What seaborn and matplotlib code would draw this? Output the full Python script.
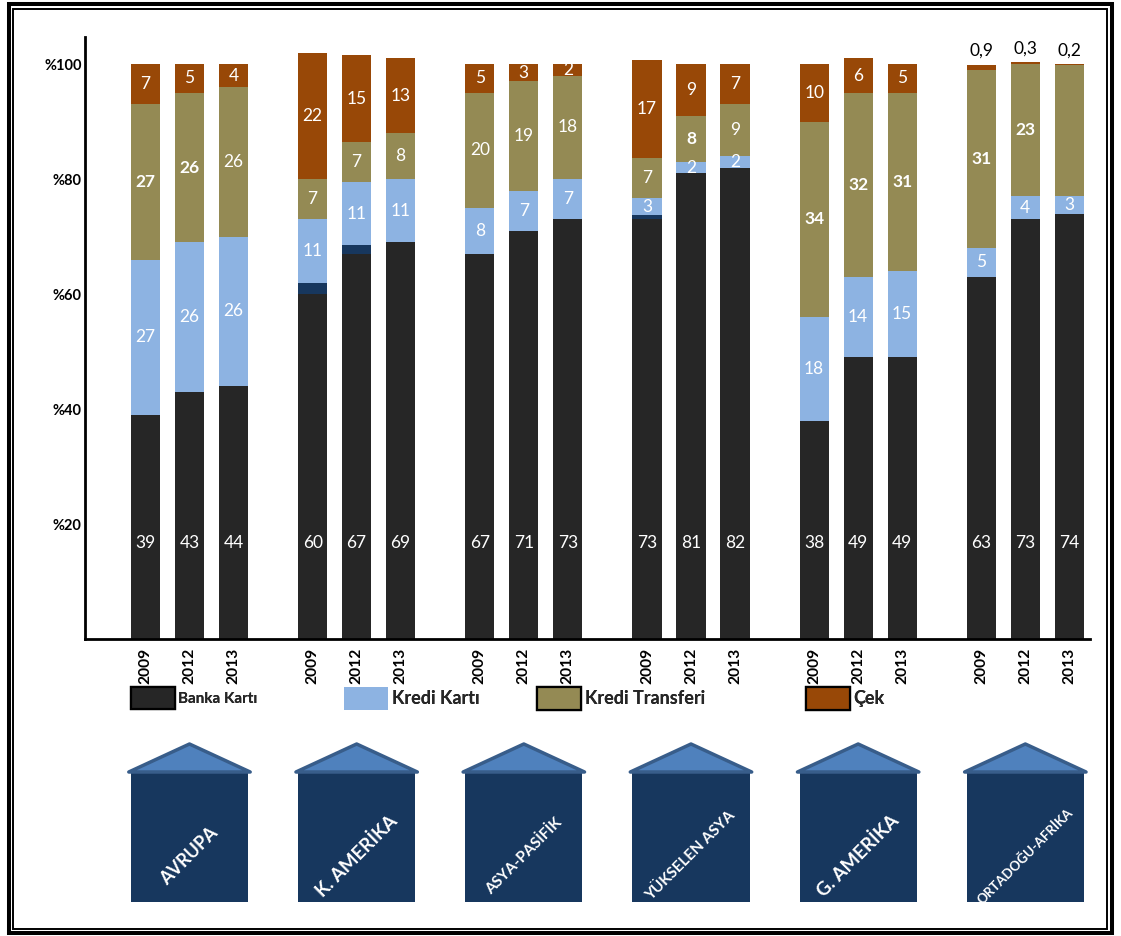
import matplotlib
matplotlib.use("Agg")
import matplotlib.pyplot as plt
from matplotlib.patches import Rectangle, Polygon, Patch
import numpy as np
import pandas as pd
import seaborn as sns

# ---- data -------------------------------------------------------------
bolgeler = ["AVRUPA", "K. AMERİKA", "ASYA-PASİFİK", "YÜKSELEN ASYA",
            "G. AMERİKA", "ORTADOĞU-AFRİKA"]
yillar = ["2009", "2012", "2013"]

banka_karti = [39, 43, 44, 60, 67, 69, 67, 71, 73, 73, 81, 82, 38, 49, 49, 63, 73, 74]
diger = [0, 0, 0, 2, 1.5, 0, 0, 0, 0, 0.7, 0, 0, 0, 0, 0, 0, 0, 0]
kredi_karti = [27, 26, 26, 11, 11, 11, 8, 7, 7, 3, 2, 2, 18, 14, 15, 5, 4, 3]
kredi_transferi = [27, 26, 26, 7, 7, 8, 20, 19, 18, 7, 8, 9, 34, 32, 31, 31, 23, 22.8]
cek = [7, 5, 4, 22, 15, 13, 5, 3, 2, 17, 9, 7, 10, 6, 5, 0.9, 0.3, 0.2]

# transfer values written in bold / left unlabeled
transfer_kalin = [1, 1, 0, 0, 0, 0, 0, 0, 0, 0, 1, 0, 1, 1, 1, 1, 1, 0]
transfer_etiketli = [1] * 17 + [0]

renkler = {"Banka Kartı": "#262626", "Diğer": "#17375E",
           "Kredi Kartı": "#8DB3E2", "Kredi Transferi": "#948A54",
           "Çek": "#984807"}

# ---- style ------------------------------------------------------------
sns.set_theme(style="white")
plt.rcParams["font.family"] = ["Lato", "DejaVu Sans"]

W, H = 1121, 936
fig = plt.figure(figsize=(W / 100, H / 100), dpi=100)

def fx(x):
    return x / W

def fy(y):
    return 1 - y / H

ax_left, ax_right, ax_top, ax_bottom = 85, 1090, 37, 639
ax = fig.add_axes([fx(ax_left), fy(ax_bottom), fx(ax_right - ax_left),
                   (ax_bottom - ax_top) / H])

grup_aralik = 3.8
konum = [g * grup_aralik + i for g in range(len(bolgeler)) for i in range(len(yillar))]

df = pd.DataFrame({
    "konum": konum,
    "Banka Kartı": banka_karti,
    "Diğer": diger,
    "Kredi Kartı": kredi_karti,
    "Kredi Transferi": kredi_transferi,
    "Çek": cek,
})
katmanlar = ["Banka Kartı", "Diğer", "Kredi Kartı", "Kredi Transferi", "Çek"]
kum = df[katmanlar].cumsum(axis=1)

# stacked bars: draw the tallest cumulative layer first
for ad in reversed(katmanlar):
    sns.barplot(x=df["konum"], y=kum[ad], native_scale=True, width=0.66,
                color=renkler[ad], saturation=1, errorbar=None,
                linewidth=0, edgecolor="none", ax=ax)

def yaz(v):
    return f"{v:g}".replace(".", ",")

etiket_fs = 12.5
for j, x in enumerate(konum):
    # debit card values sit on a common row
    ax.text(x, 16.7, yaz(banka_karti[j]), ha="center", va="center",
            color="white", fontsize=etiket_fs)
    alt = banka_karti[j] + diger[j]
    ax.text(x, alt + kredi_karti[j] / 2, yaz(kredi_karti[j]), ha="center",
            va="center", color="white", fontsize=etiket_fs)
    alt += kredi_karti[j]
    if transfer_etiketli[j]:
        ax.text(x, alt + kredi_transferi[j] / 2, yaz(kredi_transferi[j]),
                ha="center", va="center", color="white", fontsize=etiket_fs,
                fontweight="bold" if transfer_kalin[j] else "normal")
    alt += kredi_transferi[j]
    if cek[j] >= 2:
        ax.text(x, alt + cek[j] / 2, yaz(cek[j]), ha="center", va="center",
                color="white", fontsize=etiket_fs)
    else:
        ax.annotate(yaz(cek[j]), (x, alt + cek[j]), xytext=(0, 4),
                    textcoords="offset points", ha="center", va="bottom",
                    color="black", fontsize=etiket_fs)

x_min = -1.375
x_max = 21.47
ax.set_xlim(x_min, x_max)
ax.set_ylim(0, 104.7)
ax.set_xticks(konum, labels=yillar * len(bolgeler), rotation=90,
              fontweight="bold", fontsize=11.2)
ax.set_yticks([20, 40, 60, 80, 100],
              labels=["%20", "%40", "%60", "%80", "%100"],
              fontweight="bold", fontsize=10.5)
ax.tick_params(axis="x", length=0, pad=6.5, colors="black")
ax.tick_params(axis="y", length=0, pad=2.5, colors="black")
ax.set_xlabel("")
ax.set_ylabel("")
sns.despine(ax=ax)
for s in ("left", "bottom"):
    ax.spines[s].set_color("black")
    ax.spines[s].set_linewidth(2)
ax.set_facecolor("none")

# ---- legend: one entry per series, spread along the row -----------------
lejant = [("Banka Kartı", 131, 11, "black"),
          ("Kredi Kartı", 344, 13, "none"),
          ("Kredi Transferi", 537, 13, "black"),
          ("Çek", 806, 13, "black")]
for ad, x0, fs, kenar in lejant:
    fs_px = fs * 100 / 72
    h = Patch(facecolor=renkler[ad], edgecolor=kenar, linewidth=1.6, label=ad)
    leg = fig.legend(handles=[h], loc="upper left",
                     bbox_to_anchor=(fx(x0), fy(687)), frameon=False,
                     borderpad=0, borderaxespad=0, handlelength=44 / fs_px,
                     handleheight=28 / fs_px, handletextpad=0.2,
                     prop={"size": fs, "weight": "bold"})
    fig.add_artist(leg)

# ---- region houses under each group ----------------------------------
axh = fig.add_axes([fx(ax_left), fy(910), fx(ax_right - ax_left), 180 / H])
axh.set_xlim(x_min, x_max)
axh.set_ylim(910, 730)
axh.axis("off")

ev_yazi = [13, 13.5, 11, 11, 13.5, 9.5]
for g, ad in enumerate(bolgeler):
    x0 = g * grup_aralik - 0.33
    x1 = g * grup_aralik + 2.33
    xc = (x0 + x1) / 2
    axh.add_patch(Rectangle((x0, 772), x1 - x0, 130, facecolor="#17375E",
                            edgecolor="none"))
    axh.add_patch(Polygon([(x0 - 0.05, 772), (xc, 744), (x1 + 0.05, 772)],
                          closed=True, facecolor="#4F81BD", edgecolor="#385D8A",
                          linewidth=2.5, joinstyle="round"))
    axh.text(xc, 856, ad, rotation=45, rotation_mode="anchor", ha="center",
             va="center", color="white", fontweight="bold", fontsize=ev_yazi[g])

# ---- double frame around the figure ------------------------------------
fig.add_artist(Rectangle((fx(8.7), fy(933)), fx(1112 - 8.7), (933 - 3.5) / H,
                         transform=fig.transFigure, fill=False,
                         edgecolor="black", linewidth=2.9))
fig.add_artist(Rectangle((fx(13), fy(928.5)), fx(1107 - 13), (928.5 - 8.5) / H,
                         transform=fig.transFigure, fill=False,
                         edgecolor="black", linewidth=1.4))

fig.savefig("out.png", dpi=100)
